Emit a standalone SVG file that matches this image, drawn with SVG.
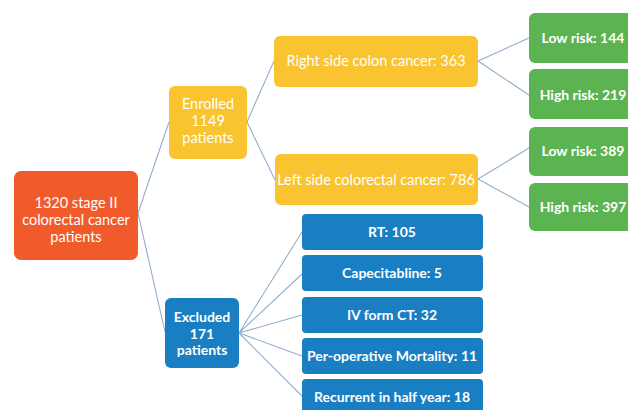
<svg xmlns="http://www.w3.org/2000/svg" width="628" height="410" viewBox="0 0 628 410">
  <style>
    .box { stroke: none; }
    .root { fill: #F15B2C; }
    .yel { fill: #F9C42F; }
    .grn { fill: #5CB351; }
    .blu { fill: #1A7EC3; }
    text { font-family: Lato, "Open Sans", "Liberation Sans", sans-serif; fill: #ffffff; text-anchor: middle; }
    .reg { font-size: 14.5px; font-weight: 400; }
    .bold { font-size: 14px; font-weight: 700; }
    .link { fill: none; stroke: #93AECB; stroke-width: 1.1; }
  </style>
  <rect width="628" height="410" fill="#ffffff"/>

  <g id="connectors">
    <path class="link" d="M138 213 L169 122 M138 213 L165 332"/>
    <path class="link" d="M247 122 L274 61 M247 122 L275 180"/>
    <path class="link" d="M478 61 L529 38 M478 61 L529 95"/>
    <path class="link" d="M478 179 L529 148 M478 179 L529 207"/>
    <path class="link" d="M239 333 L302 232 M239 333 L302 274 M239 333 L302 315 M239 333 L302 356 M239 333 L302 396"/>
  </g>

  <g id="root-node">
    <rect class="box root" x="14" y="171" width="124" height="89" rx="7"/>
    <text class="reg" x="76" y="208">1320 stage II</text>
    <text class="reg" x="76" y="225">colorectal cancer</text>
    <text class="reg" x="76" y="242">patients</text>
  </g>

  <g id="enrolled">
    <rect class="box yel" x="169" y="86" width="78" height="73" rx="6"/>
    <text class="reg" x="208" y="109">Enrolled</text>
    <text class="reg" x="208" y="126">1149</text>
    <text class="reg" x="208" y="143">patients</text>
  </g>

  <g id="excluded">
    <rect class="box blu" x="165" y="298" width="74" height="70" rx="6"/>
    <text class="bold" x="202" y="322">Excluded</text>
    <text class="bold" x="202" y="339">171</text>
    <text class="bold" x="202" y="355">patients</text>
  </g>

  <g id="right-side">
    <rect class="box yel" x="274" y="36" width="204" height="51" rx="6"/>
    <text class="reg" x="376" y="66">Right side colon cancer: 363</text>
  </g>

  <g id="left-side">
    <rect class="box yel" x="275" y="154" width="203" height="51" rx="6"/>
    <text class="reg" x="376" y="185">Left side colorectal cancer: 786</text>
  </g>

  <g id="right-low">
    <rect class="box grn" x="529" y="13" width="108" height="50" rx="6"/>
    <text class="bold" x="583" y="43">Low risk: 144</text>
  </g>
  <g id="right-high">
    <rect class="box grn" x="529" y="69" width="108" height="50" rx="6"/>
    <text class="bold" x="583" y="100">High risk: 219</text>
  </g>
  <g id="left-low">
    <rect class="box grn" x="529" y="127" width="108" height="49" rx="6"/>
    <text class="bold" x="583" y="156">Low risk: 389</text>
  </g>
  <g id="left-high">
    <rect class="box grn" x="529" y="183" width="108" height="48" rx="6"/>
    <text class="bold" x="583" y="212">High risk: 397</text>
  </g>

  <g id="ex-rt">
    <rect class="box blu" x="302" y="214" width="181" height="36" rx="4"/>
    <text class="bold" x="392" y="237">RT: 105</text>
  </g>
  <g id="ex-cap">
    <rect class="box blu" x="302" y="255" width="181" height="36" rx="4"/>
    <text class="bold" x="392" y="278">Capecitabline: 5</text>
  </g>
  <g id="ex-iv">
    <rect class="box blu" x="302" y="297" width="181" height="36" rx="4"/>
    <text class="bold" x="392" y="320">IV form CT: 32</text>
  </g>
  <g id="ex-mort">
    <rect class="box blu" x="302" y="338" width="181" height="36" rx="4"/>
    <text class="bold" x="392" y="361">Per-operative Mortality: 11</text>
  </g>
  <g id="ex-recur">
    <rect class="box blu" x="302" y="379" width="181" height="36" rx="4"/>
    <text class="bold" x="392" y="402">Recurrent in half year: 18</text>
  </g>
</svg>
